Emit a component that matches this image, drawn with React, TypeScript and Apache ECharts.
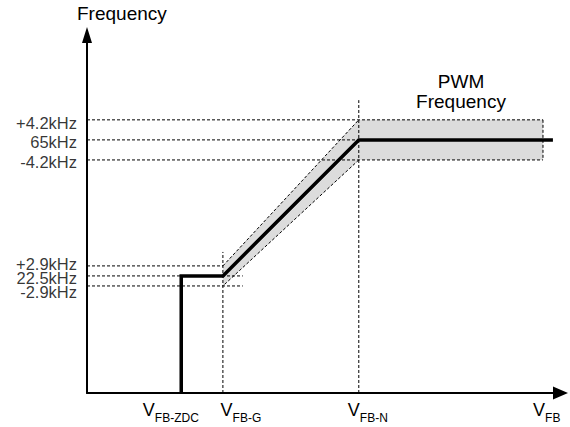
import React, { useEffect, useRef } from "react";
import * as echarts from "echarts";

// Frequency levels (schematic heights on the frequency axis)
const levelNames = ["+4.2kHz", "65kHz", "-4.2kHz", "+2.9kHz", "22.5kHz", "-2.9kHz"];
const levelValues = [76.3, 70.7, 65.1, 35.5, 32.7, 29.9];
const levelGuideEnds = [96.3, 57.4, 96.3, 28.7, 32.9, 32.9];
const levelLabelValues = [75.4, 70.1, 64.5, 36.1, 32.1, 28.1];

// Feedback voltages (schematic positions on the V_FB axis)
const voltageNames = ["FB-ZDC", "FB-G", "FB-N", "FB"];
const voltageGuideValues = [28.7, 57.4];
const voltageGuideTops = [39.4, 81.8];
const voltageLabelValues = [17.7, 32.5, 59.3, 97.1];

// Frequency curve
const curveX = [19.9, 19.9, 28.7, 57.4, 98.4];
const curveY = [0, 32.7, 32.7, 70.7, 70.7];

// Tolerance band
const bandX = [28.7, 57.4, 96.3, 96.3, 57.4, 28.7];
const bandY = [35.5, 76.3, 76.3, 65.1, 65.1, 29.9];
const bandDashedEdges = [
  [0, 1],
  [2, 3],
  [4, 5],
];

const FONT = "'Liberation Sans', Arial, Helvetica, sans-serif";

export default function App() {
  const ref = useRef<HTMLDivElement>(null);

  useEffect(() => {
    if (!ref.current) return;
    const chart = echarts.init(ref.current, undefined, { renderer: "svg" });

    const dashStyle = { color: "#000", width: 1, type: [3, 2] as number[] };
    const dashed = (pts: number[][]) => ({
      type: "line",
      data: pts,
      symbol: "none",
      silent: true,
      z: 3,
      lineStyle: dashStyle,
    });

    const series: any[] = [];

    series.push({
      type: "custom",
      coordinateSystem: "cartesian2d",
      silent: true,
      z: 1,
      data: [[0, 0]],
      renderItem: (_p: any, api: any) => ({
        type: "polygon",
        shape: { points: bandX.map((x, i) => api.coord([x, bandY[i]])) },
        style: { fill: "#dcdcdc", stroke: null },
      }),
    });

    levelValues.forEach((y, i) => {
      series.push(dashed([[0, y], [levelGuideEnds[i], y]]));
    });
    voltageGuideValues.forEach((x, i) => {
      series.push(dashed([[x, 0], [x, voltageGuideTops[i]]]));
    });
    bandDashedEdges.forEach(([a, b]) => {
      series.push(dashed([[bandX[a], bandY[a]], [bandX[b], bandY[b]]]));
    });

    series.push({
      type: "line",
      data: curveX.map((x, i) => [x, curveY[i]]),
      symbol: "none",
      silent: true,
      z: 5,
      lineStyle: { color: "#000", width: 3.5, join: "miter", cap: "butt" },
    });

    // frequency tick labels, placed by the y scale at the axis
    series.push({
      type: "scatter",
      silent: true,
      z: 6,
      symbolSize: 0,
      clip: false,
      data: levelLabelValues.map((y, i) => ({ value: [0, y], name: levelNames[i] })),
      label: {
        show: true,
        position: "left",
        distance: 10,
        formatter: "{b}",
        color: "#000",
        fontSize: 16.5,
        fontFamily: FONT,
      },
      labelLayout: { hideOverlap: false },
    });

    const option: any = {
      animation: false,
      backgroundColor: "#fff",
      textStyle: { fontFamily: FONT },
      grid: {
        left: 87,
        right: 9.5,
        top: 35,
        bottom: 34,
        containLabel: false,
        outerBoundsMode: "none",
      },
      xAxis: {
        type: "value",
        min: 0,
        max: 100,
        axisLine: {
          show: true,
          onZero: false,
          symbol: ["none", "triangle"],
          symbolSize: [13, 15],
          lineStyle: { color: "#000", width: 2 },
        },
        axisTick: { show: false },
        splitLine: { show: false },
        axisLabel: {
          customValues: voltageLabelValues,
          hideOverlap: false,
          margin: 8,
          color: "#000",
          fontFamily: FONT,
          formatter: (v: number) => {
            const i = voltageLabelValues.indexOf(v);
            return `{v|V}{s|${voltageNames[i] ?? ""}}`;
          },
          rich: {
            v: { fontSize: 18, fontFamily: FONT, color: "#000", verticalAlign: "top", lineHeight: 20 },
            s: { fontSize: 12, fontFamily: FONT, color: "#000", verticalAlign: "top", lineHeight: 12, padding: [11, 0, 0, 0] },
          },
        },
      },
      yAxis: {
        type: "value",
        min: 0,
        max: 100,
        axisLine: {
          show: true,
          onZero: false,
          symbol: ["none", "triangle"],
          symbolSize: [10, 16],
          lineStyle: { color: "#000", width: 2 },
        },
        axisTick: { show: false },
        splitLine: { show: false },
        axisLabel: { show: false },
      },
      graphic: [
        {
          type: "text",
          left: 77,
          top: 4,
          style: { text: "Frequency", fontSize: 19, fontFamily: FONT, fill: "#000" },
        },
        {
          type: "text",
          x: 461,
          y: 91,
          style: {
            text: "PWM\nFrequency",
            fontSize: 19,
            lineHeight: 20,
            fontFamily: FONT,
            fill: "#000",
            align: "center",
            verticalAlign: "middle",
          },
        },
      ],
      series,
    };

    chart.setOption(option);
    return () => chart.dispose();
  }, []);

  return (
    <div
      ref={ref}
      style={{ position: "fixed", left: 0, top: 0, width: 570, height: 427, background: "#fff" }}
    />
  );
}
